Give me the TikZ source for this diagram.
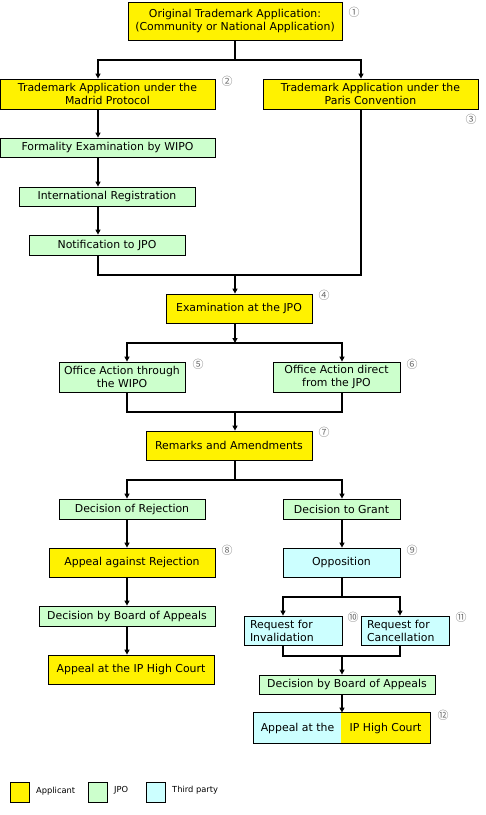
\documentclass[tikz,border=0pt]{standalone}
\usepackage{fontspec}
\setmainfont{DejaVu Sans}
\newfontfamily\cjk{Noto Sans CJK JP}
\usetikzlibrary{arrows.meta}
\definecolor{jpogreen}{RGB}{204,255,204}
\definecolor{thirdcyan}{RGB}{204,255,255}
\definecolor{numgray}{RGB}{110,110,110}

\begin{document}
\begin{tikzpicture}[x=1pt, y=-1pt,
  box/.style={draw, line width=0.8pt, inner sep=0pt, align=center,
    font=\fontsize{10.9}{13}\selectfont},
  size/.style 2 args={minimum width=#1pt, minimum height=#2pt},
  applicant/.style={box, fill=yellow},
  jpo/.style={box, fill=jpogreen},
  third/.style={box, fill=thirdcyan},
  num/.style={text=numgray, font=\cjk\fontsize{11}{11}\selectfont, inner sep=0pt},
  link/.style={line width=1.8pt},
  arr/.style={link, -{Triangle[length=5pt,width=5pt]}},
  key/.style={draw, line width=0.6pt, size={19}{20}, inner sep=0pt},
  keytext/.style={font=\fontsize{8.3}{9}\selectfont, anchor=west, inner sep=0pt}]
  \useasboundingbox (0,0) rectangle (486,815);

  % columns of the connectors
  \coordinate (colMadrid) at (98,0);
  \coordinate (colMid) at (235,0);
  \coordinate (colParis) at (361,0);
  \coordinate (colLeft) at (127,0);
  \coordinate (colRight) at (342,0);
  \coordinate (colInv) at (283,0);
  \coordinate (colCan) at (400,0);

  % boxes
  \node[applicant, size={214}{38}] (orig) at (235,21)
    {Original Trademark Application:\\(Community or National Application)};
  \node[applicant, size={215}{30}] (madrid) at (107.5,94)
    {Trademark Application under the\\Madrid Protocol};
  \node[applicant, size={215}{30}] (paris) at (370.5,94)
    {Trademark Application under the\\Paris Convention};
  \node[jpo, size={215}{19}] (formal) at (107.5,147.5) {Formality Examination by WIPO};
  \node[jpo, size={176}{19}] (intreg) at (107,196.5) {International Registration};
  \node[jpo, size={156}{20}] (notif) at (107,245) {Notification to JPO};
  \node[applicant, size={146}{29}] (exam) at (239,308.5) {Examination at the JPO};
  \node[jpo, size={126}{30}] (oawipo) at (122,377) {Office Action through\\the WIPO};
  \node[jpo, size={127}{30}] (oajpo) at (336.5,377) {Office Action direct\\from the JPO};
  \node[applicant, size={166}{29}] (remarks) at (229,445.5) {Remarks and Amendments};
  \node[jpo, size={146}{20}] (reject) at (132,509) {Decision of Rejection};
  \node[jpo, size={117}{20}] (grant) at (341.5,509) {Decision to Grant};
  \node[applicant, size={166}{29}] (appealrej) at (132,562.5) {Appeal against Rejection};
  \node[third, size={117}{29}] (oppos) at (341.5,562.5) {Opposition};
  \node[jpo, size={176}{20}] (boardL) at (127,616) {Decision by Board of Appeals};
  \node[applicant, size={166}{29}] (courtL) at (131,669.5) {Appeal at the IP High Court};
  \node[third, size={98}{29}, text width=86pt, inner xsep=6pt, align=left] (invalid)
    at (293,630.5) {Request for\\Invalidation};
  \node[third, size={88}{29}, text width=76pt, inner xsep=6pt, align=left] (cancel)
    at (405,630.5) {Request for\\Cancellation};
  \node[jpo, size={176}{19}] (boardR) at (347,684.5) {Decision by Board of Appeals};
  \node[third, draw=none, size={87}{30}] (courtRa) at (297.5,728) {Appeal at the};
  \node[applicant, draw=none, size={89}{30}] (courtRb) at (385.5,728) {IP High Court};
  \draw[line width=0.8pt] (courtRa.north west) rectangle (courtRb.south east);

  % numbers
  \node[num] (n1) at (354,12) {①};
  \node[num] (n2) at (227,81) {②};
  \node[num] (n3) at (471,119) {③};
  \node[num] (n4) at (324,295) {④};
  \node[num] (n5) at (198,364) {⑤};
  \node[num] (n6) at (412,364) {⑥};
  \node[num] (n7) at (324,432) {⑦};
  \node[num] (n8) at (227,550) {⑧};
  \node[num] (n9) at (412,550) {⑨};
  \node[num] (n10) at (353,617) {⑩};
  \node[num] (n11) at (461,617) {⑪};
  \node[num] (n12) at (443,715) {⑫};

  % junctions
  \coordinate (jTop) at (235,60);
  \coordinate (jJoin) at (235,275);
  \coordinate (jExam) at (235,343);
  \coordinate (jAction) at (235,412);
  \coordinate (jRemarks) at (235,480);
  \coordinate (jOppos) at (342,597);
  \coordinate (jRequest) at (342,656);

  % connectors
  \draw[link] (orig.south -| colMid) -- (jTop);
  \draw[arr] (jTop) -| (colMadrid |- madrid.north);
  \draw[arr] (jTop) -| (colParis |- paris.north);
  \draw[arr] (colMadrid |- madrid.south) -- (colMadrid |- formal.north);
  \draw[arr] (colMadrid |- formal.south) -- (colMadrid |- intreg.north);
  \draw[arr] (colMadrid |- intreg.south) -- (colMadrid |- notif.north);
  \draw[link] (colMadrid |- notif.south) |- (jJoin) -| (colParis |- paris.south);
  \draw[arr] (jJoin) -- (jJoin |- exam.north);
  \draw[arr] (colMid |- exam.south) -- (jExam);
  \draw[arr] (jExam) -| (colLeft |- oawipo.north);
  \draw[arr] (jExam) -| (colRight |- oajpo.north);
  \draw[link] (colLeft |- oawipo.south) |- (jAction) -| (colRight |- oajpo.south);
  \draw[arr] (jAction) -- (jAction |- remarks.north);
  \draw[link] (colMid |- remarks.south) -- (jRemarks);
  \draw[arr] (jRemarks) -| (colLeft |- reject.north);
  \draw[arr] (jRemarks) -| (colRight |- grant.north);
  \draw[arr] (colLeft |- reject.south) -- (colLeft |- appealrej.north);
  \draw[arr] (colRight |- grant.south) -- (colRight |- oppos.north);
  \draw[arr] (colLeft |- appealrej.south) -- (colLeft |- boardL.north);
  \draw[arr] (colLeft |- boardL.south) -- (colLeft |- courtL.north);
  \draw[link] (colRight |- oppos.south) -- (jOppos);
  \draw[arr] (jOppos) -| (colInv |- invalid.north);
  \draw[arr] (jOppos) -| (colCan |- cancel.north);
  \draw[link] (colInv |- invalid.south) |- (jRequest) -| (colCan |- cancel.south);
  \draw[arr] (jRequest) -- (jRequest |- boardR.north);
  \draw[arr] (colRight |- boardR.south) -- (colRight |- courtRa.north);

  % legend
  \node[key, fill=yellow] (keyA) at (19.5,792.5) {};
  \node[keytext] (keyAtext) at (36,791) {Applicant};
  \node[key, fill=jpogreen] (keyB) at (97.5,792.5) {};
  \node[keytext] (keyBtext) at (114,790) {JPO};
  \node[key, fill=thirdcyan] (keyC) at (156,792.5) {};
  \node[keytext] (keyCtext) at (172,790) {Third party};
\end{tikzpicture}
\end{document}
